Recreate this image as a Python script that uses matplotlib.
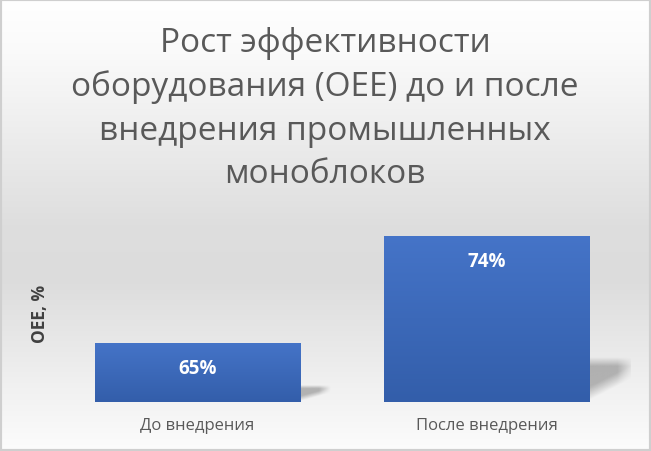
import numpy as np
import matplotlib
matplotlib.use("Agg")
import matplotlib.pyplot as plt
from matplotlib import font_manager
from matplotlib.patches import Rectangle

# Datos del gráfico
categorias = ["До внедрения", "После внедрения"]
oee = [65, 74]
etiquetas = ["65%", "74%"]
titulo = "Рост эффективности\nоборудования (OEE) до и после\nвнедрения промышленных\nмоноблоков"
eje_y = "OEE, %"

# Fuente parecida a Calibri
disponibles = {f.name for f in font_manager.fontManager.ttflist}
fuente = next(f for f in ["Liberation Sans Narrow", "Open Sans", "DejaVu Sans"]
              if f in disponibles)
plt.rcParams["font.family"] = [fuente, "DejaVu Sans"]

W, H, DPI = 651, 452, 100
fig = plt.figure(figsize=(W / DPI, H / DPI), dpi=DPI)

# Fondo con degradado vertical
fondo = fig.add_axes([0, 0, 1, 1], zorder=-1)
fondo.set_axis_off()
t = np.linspace(0, 1, 300)
gris = np.interp(t, [0, 0.12, 0.5, 0.62, 0.85, 1.0],
                 [255, 250, 222, 220, 240, 252]) / 255.
fondo.imshow(np.repeat(gris[:, None, None], 3, axis=2), aspect="auto",
             extent=[0, 1, 0, 1], origin="upper")
fondo.set_xlim(0, 1)
fondo.set_ylim(0, 1)
fondo.add_patch(Rectangle((0, 0), 1, 1, fill=False, ec="#cfcfcf", lw=3,
                          transform=fondo.transAxes))

ax = fig.add_axes([53 / W, 49 / H, 578 / W, 190 / H])
ax.patch.set_alpha(0)
ax.set_xlim(-0.5, 1.5)
ax.set_ylim(60, 76)
for s in ax.spines.values():
    s.set_visible(False)
ax.set_yticks([])
ax.set_xticks(range(len(categorias)))
ax.set_xticklabels(categorias, fontsize=12, color="#595959")
ax.tick_params(axis="x", length=0, pad=11)

ancho = 0.71
base = ax.get_ylim()[0]
px_x = 578 / 2.0      # píxeles por unidad x
px_y = 190 / 16.0     # píxeles por unidad y
barras = ax.bar(range(len(categorias)), [v - base for v in oee], bottom=base,
                width=ancho, color="none", zorder=3)

grad = np.linspace(0, 1, 200)[:, None]
c_arriba = np.array([0x45, 0x74, 0xc8]) / 255.
c_abajo = np.array([0x33, 0x5e, 0xaa]) / 255.
img_barra = c_arriba * (1 - grad[..., None]) + c_abajo * grad[..., None]

# Máscara suave de la sombra (u: izquierda->derecha, v: arriba->abajo)
v, u = np.mgrid[0:1:120j, 0:1:120j]
dentro = np.clip((1 - 0.55 * u - v) / 0.3, 0, 1)
arriba = np.clip(v / 0.2, 0, 1)
derecha = np.clip((1 - u) / 0.35, 0, 1)
sombra_rgba = np.zeros((120, 120, 4))
sombra_rgba[..., :3] = 0.4
sombra_rgba[..., 3] = 0.45 * dentro * arriba * derecha

for i, b in enumerate(barras):
    x0, y0 = b.get_x(), b.get_y()
    w, h = b.get_width(), b.get_height()
    im = ax.imshow(img_barra, extent=[x0, x0 + w, y0, y0 + h], aspect="auto",
                   origin="upper", zorder=3)
    im.set_clip_path(b)

    # Sombra en perspectiva a la derecha de la barra
    hp = h * px_y
    hs = 0.27 * h
    dx = (22 + 0.14 * hp) / px_x
    xr = x0 + w
    ax.imshow(sombra_rgba, extent=[xr - 0.01, xr + dx, y0, y0 + hs],
              aspect="auto", origin="upper", zorder=2)

    ax.text(i, oee[i] - 25 / px_y, etiquetas[i], ha="center", va="center",
            color="white", fontsize=13.5, fontweight="bold", zorder=4)

ax.set_xlim(-0.5, 1.5)
ax.set_ylim(60, 76)

fig.text(40 / W, 1 - 314 / H, eje_y, rotation=90, ha="center", va="center",
         fontsize=12.5, fontweight="bold", color="#404040")

fig.text(325 / W, 1 - 27 / H, titulo, ha="center", va="top", fontsize=24,
         color="#595959", linespacing=1.41)

fig.savefig("out.png", dpi=DPI)
